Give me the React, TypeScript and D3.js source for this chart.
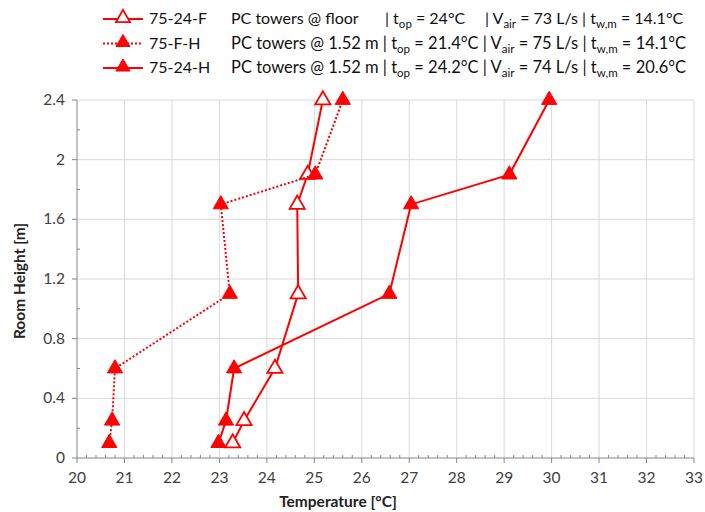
import React, { useEffect } from 'react';
import * as d3 from 'd3';

// room heights where the temperatures were measured
const heights = [0.1, 0.25, 0.6, 1.1, 1.7, 1.9, 2.4];
// temperatures [°C] per case
const temps24F = [23.28, 23.52, 24.17, 24.66, 24.64, 24.86, 25.18];
const tempsFH = [20.68, 20.74, 20.8, 23.22, 23.03, 25.02, 25.6];
const temps24H = [22.98, 23.14, 23.31, 26.58, 27.04, 29.11, 29.95];

const xTicks = d3.range(20, 34, 1);
const yTicks = [0, 0.4, 0.8, 1.2, 1.6, 2, 2.4];

const RED = '#ff0000';
const FONT = 'Lato, "Open Sans", "DejaVu Sans", sans-serif';

const series = [
  { name: '75-24-F', values: temps24F, dash: null, open: true },
  { name: '75-F-H', values: tempsFH, dash: '2,2', open: false },
  { name: '75-24-H', values: temps24H, dash: null, open: false },
];

const legendRows = [
  { name: '75-24-F', where: 'PC towers @ floor', top: '24', vair: '73', tw: '14.1' },
  { name: '75-F-H', where: 'PC towers @ 1.52 m', top: '21.4', vair: '75', tw: '14.1' },
  { name: '75-24-H', where: 'PC towers @ 1.52 m', top: '24.2', vair: '74', tw: '20.6' },
];

const Sub = ({ base, sub }: { base: string; sub: string }) => (
  <>
    <tspan>{base}</tspan>
    <tspan fontSize={11.5} dy={4}>{sub}</tspan>
    <tspan dy={-4}>{' '}</tspan>
  </>
);

const App = () => {
  useEffect(() => {
    document.body.style.margin = '0';
  }, []);

  const width = 705;
  const height = 512;
  const x = d3.scaleLinear().domain([20, 33]).range([77, 694]);
  const y = d3.scaleLinear().domain([0, 2.4]).range([458, 100]);

  const line = d3.line<number>()
    .x((d) => x(d))
    .y((_, i) => y(heights[i]));

  const tri = d3.symbol().type(d3.symbolTriangle).size(100)();
  const triSmall = d3.symbol().type(d3.symbolTriangle).size(85)();

  const minorX = d3.range(20, 33.01, 0.2).filter((v) => Math.abs(v - Math.round(v)) > 0.01);
  const minorY = d3.range(0.2, 2.4, 0.4);

  return (
    <svg width={width} height={height} style={{ display: 'block', fontFamily: FONT }}>
      <rect width={width} height={height} fill="#fff" />

      {/* grid */}
      {yTicks.filter((t) => t > 0).map((t) => (
        <line key={'gy' + t} x1={x(20)} x2={x(33)} y1={y(t)} y2={y(t)} stroke="#d9d9d9" strokeWidth={1} />
      ))}
      {xTicks.filter((t) => t > 20).map((t) => (
        <line key={'gx' + t} x1={x(t)} x2={x(t)} y1={y(0)} y2={y(2.4)} stroke="#d9d9d9" strokeWidth={1} />
      ))}

      {/* axes */}
      <line x1={x(20)} x2={x(33)} y1={y(0)} y2={y(0)} stroke="#868686" />
      <line x1={x(20)} x2={x(20)} y1={y(0)} y2={y(2.4)} stroke="#868686" />
      {xTicks.map((t) => (
        <line key={'tx' + t} x1={x(t)} x2={x(t)} y1={y(0)} y2={y(0) + 5} stroke="#868686" />
      ))}
      {minorX.map((t) => (
        <line key={'mx' + t} x1={x(t)} x2={x(t)} y1={y(0) - 3} y2={y(0)} stroke="#868686" />
      ))}
      {yTicks.map((t) => (
        <line key={'ty' + t} x1={x(20) - 5} x2={x(20)} y1={y(t)} y2={y(t)} stroke="#868686" />
      ))}
      {minorY.map((t) => (
        <line key={'my' + t} x1={x(20)} x2={x(20) + 3} y1={y(t)} y2={y(t)} stroke="#868686" />
      ))}

      {/* tick labels */}
      {xTicks.map((t) => (
        <text key={'lx' + t} x={x(t)} y={y(0) + 25} textAnchor="middle" fontSize={15.5} fill="#404040">{t}</text>
      ))}
      {yTicks.map((t) => (
        <text key={'ly' + t} x={x(20) - 12} y={y(t) + 5} textAnchor="end" fontSize={15.5} fill="#404040">{t}</text>
      ))}

      {/* axis titles */}
      <text x={338} y={507} textAnchor="middle" fontSize={15.5} fontWeight="bold" fill="#222">Temperature [°C]</text>
      <text transform={`translate(25,${(y(0) + y(2.4)) / 2 + 2}) rotate(-90)`} textAnchor="middle" fontSize={15.5} fontWeight="bold" fill="#222">Room Height [m]</text>

      {/* series */}
      {series.map((s) => (
        <g key={s.name}>
          <path d={line(s.values) || ''} fill="none" stroke={RED} strokeWidth={2} strokeDasharray={s.dash || undefined} />
          {s.values.map((v, i) => (
            <path key={i} d={tri} transform={`translate(${x(v)},${y(heights[i])})`}
              fill={s.open ? '#fff' : RED} stroke={RED} strokeWidth={s.open ? 1.8 : 1} />
          ))}
        </g>
      ))}

      {/* legend */}
      {legendRows.map((r, i) => {
        const ly = 19 + i * 24.5;
        const s = series[i];
        const first = i === 0;
        return (
          <g key={r.name} fontSize={16} fill="#111">
            <line x1={103} x2={143} y1={ly} y2={ly} stroke={RED} strokeWidth={2} strokeDasharray={s.dash || undefined} />
            <path d={triSmall} transform={`translate(123,${ly - 1})`} fill={s.open ? '#fff' : RED} stroke={RED} strokeWidth={s.open ? 1.8 : 1} />
            <text x={149} y={ly + 5}>{r.name}</text>
            {first ? (
              <>
                <text x={231} y={ly + 5}>{r.where}</text>
                <text x={385} y={ly + 5}>| <Sub base="t" sub="op" />= {r.top}°C</text>
                <text x={485} y={ly + 5}>| <Sub base="V" sub="air" />= {r.vair} L/s | <Sub base="t" sub="w,m" />= {r.tw}°C</text>
              </>
            ) : (
              <text x={231} y={ly + 5} fontSize={16.5}>
                {r.where} | <Sub base="t" sub="op" />= {r.top}°C | <Sub base="V" sub="air" />= {r.vair} L/s | <Sub base="t" sub="w,m" />= {r.tw}°C
              </text>
            )}
          </g>
        );
      })}
    </svg>
  );
};

export default App;
